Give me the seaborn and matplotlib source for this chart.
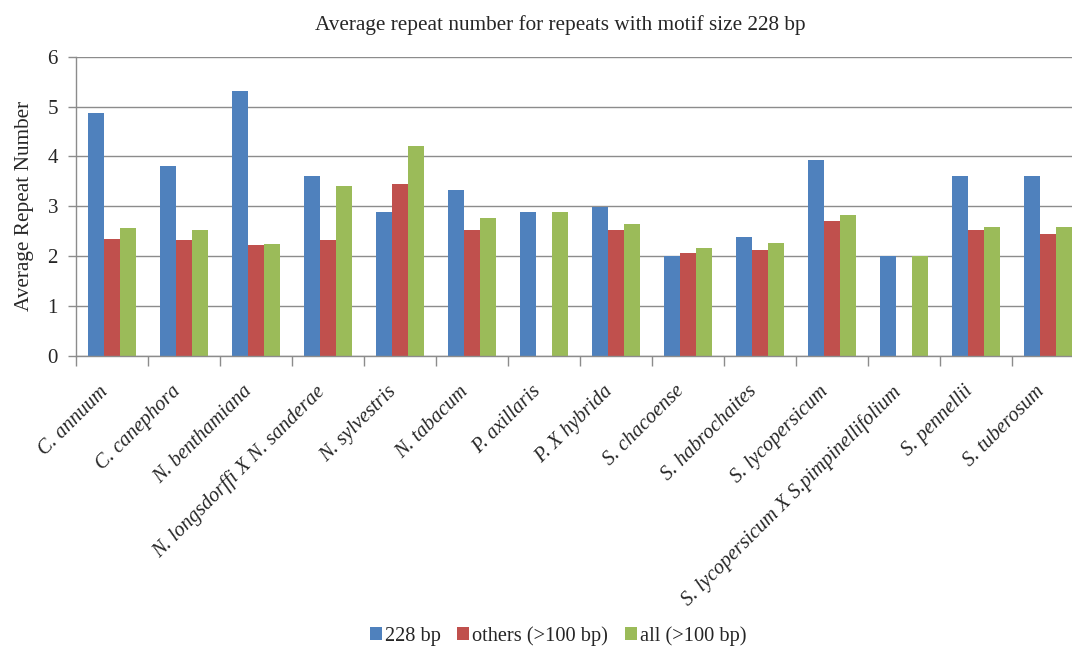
import numpy as np
import pandas as pd
import matplotlib
matplotlib.use("Agg")
import matplotlib.pyplot as plt
import matplotlib.transforms as mtransforms
import seaborn as sns

species = ["C. annuum", "C. canephora", "N. benthamiana", "N. longsdorffi X N. sanderae",
           "N. sylvestris", "N. tabacum", "P. axillaris", "P. X hybrida", "S. chacoense",
           "S. habrochaites", "S. lycopersicum", "S. lycopersicum X S.pimpinellifolium",
           "S. pennellii", "S. tuberosum"]
series_names = ["228 bp", "others (>100 bp)", "all (>100 bp)"]
vals_228 = [4.88, 3.81, 5.32, 3.61, 2.89, 3.33, 2.89, 2.98, 2.00, 2.39, 3.93, 2.00, 3.61, 3.61]
vals_others = [2.35, 2.33, 2.22, 2.32, 3.45, 2.52, np.nan, 2.52, 2.07, 2.13, 2.70, np.nan, 2.53, 2.44]
vals_all = [2.56, 2.52, 2.25, 3.40, 4.20, 2.76, 2.89, 2.64, 2.17, 2.26, 2.82, 2.00, 2.58, 2.59]
colors = ["#4F81BD", "#C0504D", "#9BBB59"]

rows = []
for name, vals in zip(series_names, [vals_228, vals_others, vals_all]):
    for sp, v in zip(species, vals):
        rows.append({"species": sp, "series": name, "value": v})
df = pd.DataFrame(rows).dropna()

sns.set_theme(style="white")
plt.rcParams["font.family"] = ["Liberation Serif", "DejaVu Serif"]

fig = plt.figure(figsize=(10.72, 6.5), dpi=100)
ax = fig.add_axes([76 / 1072, 1 - 355.7 / 650, 1008 / 1072, (355.7 - 56.7) / 650])

sns.barplot(data=df, x="species", y="value", hue="series", order=species,
            hue_order=series_names, palette=colors, width=0.67, errorbar=None,
            linewidth=0, saturation=1, ax=ax)

ax.set_ylim(0, 6)
ax.set_xlim(-0.5, len(species) - 0.5)
ax.set_yticks(range(0, 7))
ax.set_yticklabels([str(i) for i in range(0, 7)], fontsize=15)
ax.yaxis.grid(True, color="#8c8c8c", linewidth=1)
ax.set_axisbelow(True)

# category boundary ticks
ax.set_xticks(np.arange(-0.5, len(species) - 0.5, 1.0))
ax.set_xticklabels([])
ax.tick_params(axis="x", which="major", direction="out", length=7, color="#8c8c8c", width=1, bottom=True)
ax.tick_params(axis="y", which="major", direction="out", length=6, color="#8c8c8c", width=1, left=True, pad=7)
ax.set_xticks(np.arange(len(species)), minor=True)
ax.set_xticklabels(species, minor=True, rotation=45, ha="right", rotation_mode="anchor",
                   fontsize=14.7, style="italic")
ax.tick_params(axis="x", which="minor", length=0, pad=19)
offset = mtransforms.ScaledTranslation(-13 / 100, 0, fig.dpi_scale_trans)
for lab in ax.get_xticklabels(minor=True):
    lab.set_transform(lab.get_transform() + offset)

for s in ["top", "right"]:
    ax.spines[s].set_visible(False)
for s in ["left", "bottom"]:
    ax.spines[s].set_color("#8c8c8c")
    ax.spines[s].set_linewidth(1)

ax.set_xlabel("")
ax.set_ylabel("Average Repeat Number", fontsize=15.3, labelpad=10)
fig.text(560 / 1072, 1 - 25 / 650, "Average repeat number for repeats with motif size 228 bp",
         ha="center", va="center", fontsize=15.3)

handles, labels = ax.get_legend_handles_labels()
ax.get_legend().remove()
fig.legend(handles, labels, loc="center", bbox_to_anchor=(558 / 1072, 1 - 636 / 650), ncol=3,
           frameon=False, fontsize=14.7, handlelength=0.6, handleheight=0.6, handletextpad=0.15,
           columnspacing=0.8)

fig.savefig("out.png", dpi=100)
